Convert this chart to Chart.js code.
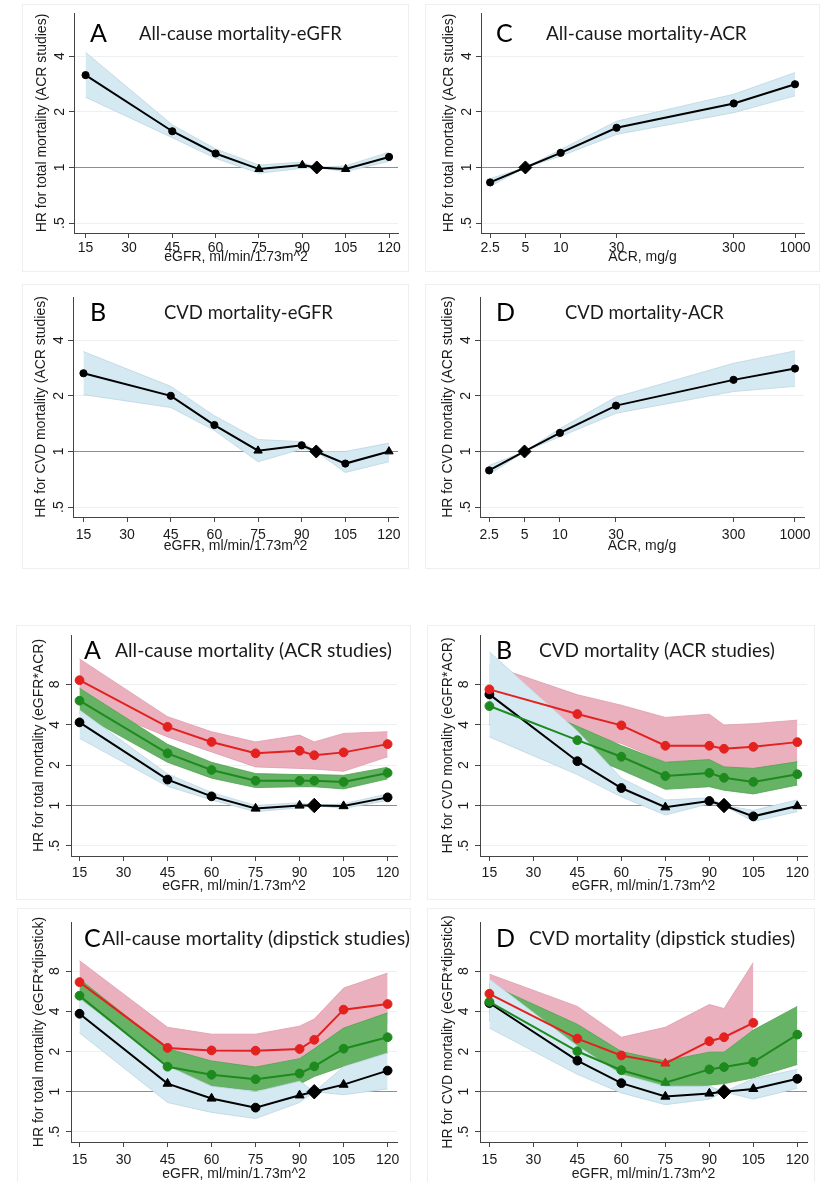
<!DOCTYPE html>
<html>
<head>
<meta charset="utf-8">
<script src="https://cdn.jsdelivr.net/npm/chart.js@4.4.1/dist/chart.umd.min.js"></script>
<style>
  body { margin: 0; background: #fff; }
  #page { position: relative; width: 825px; height: 1182px; overflow: hidden; background: #fff; }
  #page canvas, .frame { position: absolute; }
  .frame { border: 1px solid #efefef; box-sizing: border-box; }
</style>
</head>
<body>
<div id="page"></div>
<script>
// categories and axis ticks
const egfrCats = [15, 45, 60, 75, 90, 95, 105, 120];
const acrCats = [2.5, 5, 10, 30, 300, 1000];
const egfrTicks = [15, 30, 45, 60, 75, 90, 105, 120];
const acrTicks = [2.5, 5, 10, 30, 300, 1000];
const hrTicksTop = [0.5, 1, 2, 4];
const hrTicksBottom = [0.5, 1, 2, 4, 8];

// marker codes: c = circle, t = triangle, d = reference diamond
// all-cause mortality by eGFR (ACR studies)
const allEgfrHR = [3.16, 1.57, 1.19, 0.98, 1.03, 1, 0.98, 1.14];
const allEgfrLo = [2.40, 1.45, 1.12, 0.93, 0.99, 1, 0.95, 1.08];
const allEgfrHi = [4.20, 1.70, 1.26, 1.03, 1.07, 1, 1.02, 1.21];
const allEgfrMarks = ['c', 'c', 'c', 't', 't', 'd', 't', 'c'];

// CVD mortality by eGFR
const cvdEgfrHR = [2.65, 2.00, 1.39, 1.01, 1.08, 1, 0.86, 1.00];
const cvdEgfrLo = [2.03, 1.73, 1.30, 0.88, 1.03, 1, 0.77, 0.88];
const cvdEgfrHi = [3.47, 2.25, 1.56, 1.16, 1.13, 1, 1.00, 1.11];
const cvdEgfrMarks = ['c', 'c', 'c', 't', 'c', 'd', 'c', 't'];

// all-cause mortality by ACR
const allAcrHR = [0.83, 1, 1.20, 1.64, 2.22, 2.82];
const allAcrLo = [0.79, 1, 1.15, 1.51, 1.98, 2.44];
const allAcrHi = [0.87, 1, 1.25, 1.78, 2.49, 3.26];
const allAcrMarks = ['c', 'd', 'c', 'c', 'c', 'c'];

// CVD mortality by ACR
const cvdAcrHR = [0.79, 1, 1.26, 1.77, 2.44, 2.81];
const cvdAcrLo = [0.75, 1, 1.20, 1.61, 2.11, 2.25];
const cvdAcrHi = [0.84, 1, 1.33, 1.97, 3.00, 3.50];
const cvdAcrMarks = ['c', 'd', 'c', 'c', 'c', 'c'];

// eGFR x ACR, all-cause: red = ACR 300, green = ACR 30, black = ACR 5
const xAllRedHR = [8.60, 3.86, 2.98, 2.45, 2.56, 2.37, 2.49, 2.87];
const xAllRedLo = [6.10, 3.25, 2.51, 1.94, 1.89, 1.87, 1.80, 2.31];
const xAllRedHi = [12.4, 4.60, 3.55, 2.98, 3.35, 2.98, 3.45, 3.55];
const xAllGreenHR = [6.05, 2.45, 1.84, 1.53, 1.53, 1.53, 1.50, 1.75];
const xAllGreenLo = [4.87, 2.10, 1.60, 1.36, 1.38, 1.38, 1.33, 1.58];
const xAllGreenHi = [7.50, 2.86, 2.10, 1.73, 1.70, 1.70, 1.68, 1.93];
const xAllBlackHR = [4.17, 1.56, 1.17, 0.95, 1.00, 1, 0.99, 1.15];
const xAllBlackLo = [3.17, 1.39, 1.10, 0.90, 0.96, 1, 0.95, 1.09];
const xAllBlackHi = [5.15, 1.72, 1.25, 1.00, 1.05, 1, 1.03, 1.22];
const xAllBlackMarks = ['c', 'c', 'c', 't', 't', 'd', 't', 'c'];

// eGFR x ACR, CVD
const xCvdRedHR = [7.35, 4.81, 3.96, 2.79, 2.79, 2.65, 2.74, 2.97];
const xCvdRedLo = [5.00, 3.55, 2.90, 2.12, 2.20, 1.94, 1.89, 2.10];
const xCvdRedHi = [11.2, 6.70, 5.60, 4.54, 4.80, 3.98, 4.08, 4.33];
const xCvdGreenHR = [5.52, 3.07, 2.31, 1.66, 1.75, 1.61, 1.50, 1.71];
const xCvdGreenLo = [4.00, 2.50, 1.84, 1.32, 1.38, 1.30, 1.22, 1.42];
const xCvdGreenHi = [7.50, 3.90, 2.80, 2.10, 2.20, 1.94, 1.89, 2.12];
const xCvdBlackHR = [6.74, 2.14, 1.35, 0.97, 1.08, 1, 0.83, 0.99];
const xCvdBlackLo = [3.25, 1.70, 1.16, 0.85, 1.03, 1, 0.76, 0.90];
const xCvdBlackHi = [14.0, 3.60, 1.60, 1.10, 1.14, 1, 0.92, 1.10];
const xCvdBlackMarks = ['c', 'c', 'c', 't', 'c', 'd', 'c', 't'];

// eGFR x dipstick, all-cause
const dAllRedHR = [6.63, 2.13, 2.04, 2.03, 2.09, 2.45, 4.12, 4.54];
const dAllRedLo = [5.30, 1.60, 1.50, 1.50, 1.55, 1.80, 2.90, 3.30];
const dAllRedHi = [9.60, 3.04, 2.70, 2.70, 3.10, 3.50, 5.98, 7.74];
const dAllGreenHR = [5.24, 1.54, 1.34, 1.24, 1.37, 1.55, 2.10, 2.56];
const dAllGreenLo = [3.90, 1.20, 1.10, 1.02, 1.14, 1.30, 1.55, 1.95];
const dAllGreenHi = [7.00, 2.10, 1.70, 1.53, 1.77, 2.10, 3.00, 3.90];
const dAllBlackHR = [3.84, 1.15, 0.89, 0.76, 0.94, 1, 1.13, 1.44];
const dAllBlackLo = [2.76, 0.83, 0.70, 0.63, 0.83, 1, 0.95, 1.05];
const dAllBlackHi = [5.00, 1.56, 1.10, 1.00, 1.20, 1, 1.54, 1.95];
const dAllBlackMarks = ['c', 't', 't', 'c', 't', 'd', 't', 'c'];

// eGFR x dipstick, CVD (no estimate for the top dipstick group at 120)
const dCvdRedHR = [5.42, 2.50, 1.87, 1.63, 2.39, 2.56, 3.28, null];
const dCvdRedLo = [3.90, 1.70, 1.40, 1.13, 1.68, 1.90, 2.20, null];
const dCvdRedHi = [7.60, 4.36, 2.56, 3.04, 4.50, 4.20, 9.30, null];
const dCvdRedMarks = ['c', 'c', 'c', 't', 'c', 'c', 'c', 'c'];
const dCvdGreenHR = [4.72, 2.01, 1.45, 1.17, 1.47, 1.53, 1.67, 2.68];
const dCvdGreenLo = [3.40, 1.40, 1.13, 1.03, 1.12, 1.15, 1.27, 1.60];
const dCvdGreenHi = [6.40, 3.20, 2.00, 1.70, 1.98, 1.98, 2.90, 4.36];
const dCvdGreenMarks = ['c', 'c', 'c', 't', 'c', 'c', 'c', 'c'];
const dCvdBlackHR = [4.62, 1.71, 1.16, 0.92, 0.97, 1, 1.05, 1.25];
const dCvdBlackLo = [3.00, 1.35, 0.98, 0.80, 0.88, 1, 0.88, 1.06];
const dCvdBlackHi = [7.00, 2.20, 1.35, 1.10, 1.10, 1, 1.25, 1.47];
const dCvdBlackMarks = ['c', 'c', 'c', 't', 't', 'd', 't', 'c'];

const allCircles = ['c', 'c', 'c', 'c', 'c', 'c', 'c', 'c'];

const lineColor = { blue: '#000000', green: '#1e8a1e', pink: '#e3211f' };
const bandFill = { blue: '#d4e9f1', green: '#66b366', pink: '#ebb0be' };
const bandEdge = { blue: '#bcd6e2', green: '#4fa34f', pink: '#dd9cad' };
const bandOrder = { blue: 1, green: 2, pink: 3 };
const pointShape = { c: 'circle', t: 'triangle', d: 'rectRot' };

const AXIS_FONT = '"Liberation Sans", Arial, sans-serif';
const HEAD_FONT = 'Lato, "Open Sans", sans-serif';
const Y_W = 45;
const X_H = 42;

const egfrTitle = 'eGFR, ml/min/1.73m^2';

const panels = [
  { box: { x: 0, y: 0, w: 412, h: 280 }, frame: [22, 4, 387, 268], plot: { l: 74, t: 13, r: 398, b: 233 },
    xType: 'linear', xMin: 11, xMax: 123.1, xTicks: egfrTicks, xTitle: egfrTitle, tickGap: 15, titleGap: 24,
    yMin: 0.442, yMax: 6.85, yTicks: hrTicksTop, yTitle: 'HR for total mortality (ACR studies)', yLabelGap: 14,
    letter: 'A', heading: 'All-cause mortality-eGFR', letterX: 90, headX: 139, headW: 203, headY: 33, headSize: 16, small: true,
    series: [{ cats: egfrCats, hr: allEgfrHR, lo: allEgfrLo, hi: allEgfrHi, marks: allEgfrMarks, tone: 'blue' }] },
  { box: { x: 412, y: 0, w: 413, h: 280 }, frame: [425, 4, 395, 268], plot: { l: 481, t: 13, r: 804, b: 233 },
    xType: 'logarithmic', xMin: 2.09, xMax: 1193, xTicks: acrTicks, xTitle: 'ACR, mg/g', tickGap: 15, titleGap: 24,
    yMin: 0.442, yMax: 6.85, yTicks: hrTicksTop, yTitle: 'HR for total mortality (ACR studies)', yLabelGap: 14,
    letter: 'C', heading: 'All-cause mortality-ACR', letterX: 496, headX: 546, headW: 201, headY: 33, headSize: 16, small: true,
    series: [{ cats: acrCats, hr: allAcrHR, lo: allAcrLo, hi: allAcrHi, marks: allAcrMarks, tone: 'blue' }] },
  { box: { x: 0, y: 280, w: 412, h: 295 }, frame: [22, 284, 387, 285], plot: { l: 73, t: 297, r: 398, b: 517 },
    xType: 'linear', xMin: 11.4, xMax: 123.1, xTicks: egfrTicks, xTitle: egfrTitle, tickGap: 18, titleGap: 29,
    yMin: 0.442, yMax: 6.85, yTicks: hrTicksTop, yTitle: 'HR for CVD mortality (ACR studies)', yLabelGap: 14,
    letter: 'B', heading: 'CVD mortality-eGFR', letterX: 90, headX: 164, headW: 169, headY: 312, headSize: 16, small: true,
    series: [{ cats: egfrCats, hr: cvdEgfrHR, lo: cvdEgfrLo, hi: cvdEgfrHi, marks: cvdEgfrMarks, tone: 'blue' }] },
  { box: { x: 412, y: 280, w: 413, h: 295 }, frame: [425, 284, 395, 285], plot: { l: 480, t: 297, r: 804, b: 517 },
    xType: 'logarithmic', xMin: 2.09, xMax: 1193, xTicks: acrTicks, xTitle: 'ACR, mg/g', tickGap: 18, titleGap: 29,
    yMin: 0.442, yMax: 6.85, yTicks: hrTicksTop, yTitle: 'HR for CVD mortality (ACR studies)', yLabelGap: 14,
    letter: 'D', heading: 'CVD mortality-ACR', letterX: 496, headX: 565, headW: 159, headY: 312, headSize: 16, small: true,
    series: [{ cats: acrCats, hr: cvdAcrHR, lo: cvdAcrLo, hi: cvdAcrHi, marks: cvdAcrMarks, tone: 'blue' }] },
  { box: { x: 0, y: 600, w: 412, h: 300 }, frame: [16, 625, 395, 275], plot: { l: 71, t: 635, r: 397, b: 856 },
    xType: 'linear', xMin: 12.1, xMax: 123.2, xTicks: egfrTicks, xTitle: egfrTitle, tickGap: 17, titleGap: 30,
    yMin: 0.42, yMax: 18.7, yTicks: hrTicksBottom, yTitle: 'HR for total mortality (eGFR*ACR)', yLabelGap: 15.5,
    letter: 'A', heading: 'All-cause mortality (ACR studies)', letterX: 84, headX: 115, headW: 277, headY: 650, headSize: 19, small: false,
    series: [
      { cats: egfrCats, hr: xAllRedHR, lo: xAllRedLo, hi: xAllRedHi, marks: allCircles, tone: 'pink' },
      { cats: egfrCats, hr: xAllGreenHR, lo: xAllGreenLo, hi: xAllGreenHi, marks: allCircles, tone: 'green' },
      { cats: egfrCats, hr: xAllBlackHR, lo: xAllBlackLo, hi: xAllBlackHi, marks: xAllBlackMarks, tone: 'blue' }] },
  { box: { x: 412, y: 600, w: 413, h: 300 }, frame: [427, 625, 388, 275], plot: { l: 480, t: 635, r: 807, b: 856 },
    xType: 'linear', xMin: 11.8, xMax: 123.3, xTicks: egfrTicks, xTitle: egfrTitle, tickGap: 17, titleGap: 30,
    yMin: 0.42, yMax: 18.7, yTicks: hrTicksBottom, yTitle: 'HR for CVD mortality (eGFR*ACR)', yLabelGap: 15.5,
    letter: 'B', heading: 'CVD mortality (ACR studies)', letterX: 496, headX: 539, headW: 236, headY: 650, headSize: 19, small: false,
    series: [
      { cats: egfrCats, hr: xCvdRedHR, lo: xCvdRedLo, hi: xCvdRedHi, marks: allCircles, tone: 'pink' },
      { cats: egfrCats, hr: xCvdGreenHR, lo: xCvdGreenLo, hi: xCvdGreenHi, marks: allCircles, tone: 'green' },
      { cats: egfrCats, hr: xCvdBlackHR, lo: xCvdBlackLo, hi: xCvdBlackHi, marks: xCvdBlackMarks, tone: 'blue' }] },
  { box: { x: 0, y: 900, w: 412, h: 290 }, frame: [17, 908, 394, 280], plot: { l: 71, t: 922, r: 397, b: 1142 },
    xType: 'linear', xMin: 12.1, xMax: 123.2, xTicks: egfrTicks, xTitle: egfrTitle, tickGap: 18, titleGap: 32,
    yMin: 0.42, yMax: 18.7, yTicks: hrTicksBottom, yTitle: 'HR for total mortality (eGFR*dipstick)', yLabelGap: 15.5,
    letter: 'C', heading: 'All-cause mortality (dipstick studies)', letterX: 84, headX: 102, headW: 308, headY: 938, headSize: 19, small: false,
    series: [
      { cats: egfrCats, hr: dAllRedHR, lo: dAllRedLo, hi: dAllRedHi, marks: allCircles, tone: 'pink' },
      { cats: egfrCats, hr: dAllGreenHR, lo: dAllGreenLo, hi: dAllGreenHi, marks: allCircles, tone: 'green' },
      { cats: egfrCats, hr: dAllBlackHR, lo: dAllBlackLo, hi: dAllBlackHi, marks: dAllBlackMarks, tone: 'blue' }] },
  { box: { x: 412, y: 900, w: 413, h: 290 }, frame: [427, 908, 388, 280], plot: { l: 480, t: 922, r: 807, b: 1142 },
    xType: 'linear', xMin: 11.8, xMax: 123.3, xTicks: egfrTicks, xTitle: egfrTitle, tickGap: 18, titleGap: 32,
    yMin: 0.42, yMax: 18.7, yTicks: hrTicksBottom, yTitle: 'HR for CVD mortality (eGFR*dipstick)', yLabelGap: 15.5,
    letter: 'D', heading: 'CVD mortality (dipstick studies)', letterX: 496, headX: 529, headW: 266, headY: 938, headSize: 19, small: false,
    series: [
      { cats: egfrCats, hr: dCvdRedHR, lo: dCvdRedLo, hi: dCvdRedHi, marks: dCvdRedMarks, tone: 'pink' },
      { cats: egfrCats, hr: dCvdGreenHR, lo: dCvdGreenLo, hi: dCvdGreenHi, marks: dCvdGreenMarks, tone: 'green' },
      { cats: egfrCats, hr: dCvdBlackHR, lo: dCvdBlackLo, hi: dCvdBlackHi, marks: dCvdBlackMarks, tone: 'blue' }] },
];

// rotated y tick labels plus the panel letter and heading
const panelText = {
  id: 'panelText',
  afterDraw(chart, args, opts) {
    const { ctx } = chart;
    const yScale = chart.scales.y;
    ctx.save();
    ctx.fillStyle = '#1a1a1a';
    ctx.font = '14px ' + AXIS_FONT;
    ctx.textAlign = 'center';
    ctx.textBaseline = 'middle';
    yScale.ticks.forEach(t => {
      ctx.save();
      ctx.translate(yScale.right - opts.labelGap, yScale.getPixelForValue(t.value));
      ctx.rotate(-Math.PI / 2);
      ctx.fillText(t.label, 0, 0);
      ctx.restore();
    });

    ctx.textAlign = 'left';
    ctx.textBaseline = 'alphabetic';
    ctx.fillStyle = '#000';
    const letterSize = 25;
    ctx.font = letterSize + 'px ' + HEAD_FONT;
    ctx.fillText(opts.letter, opts.letterX, opts.headY + letterSize * 0.36);

    ctx.font = opts.headSize + 'px ' + HEAD_FONT;
    const w = ctx.measureText(opts.heading).width;
    const size = opts.headSize * opts.headW / w;
    ctx.font = size.toFixed(2) + 'px ' + HEAD_FONT;
    ctx.fillStyle = '#1a1a1a';
    ctx.fillText(opts.heading, opts.headX, opts.headY + size * 0.36);
    ctx.restore();
  }
};

function seriesSets(s, small) {
  const pts = arr => s.cats.map((c, i) => ({ x: c, y: arr[i] }));
  const ord = bandOrder[s.tone];
  const radius = small ? { c: 3.6, t: 4.8, d: 6.5 } : { c: 4.4, t: 5.2, d: 7.2 };
  return [
    { data: pts(s.hi), fill: '+1', backgroundColor: bandFill[s.tone], borderColor: bandEdge[s.tone],
      borderWidth: 0.8, pointRadius: 0, order: ord + 0.2 },
    { data: pts(s.lo), fill: false, borderColor: bandEdge[s.tone], borderWidth: 0.8, pointRadius: 0, order: ord + 0.1 },
    { data: pts(s.hr), fill: false, borderColor: lineColor[s.tone], backgroundColor: lineColor[s.tone],
      borderWidth: 2, pointStyle: s.marks.map(m => pointShape[m]), pointRadius: s.marks.map(m => radius[m]),
      pointBorderWidth: 1, order: 0 }
  ];
}

const page = document.getElementById('page');

panels.forEach(p => {
  const frame = document.createElement('div');
  frame.className = 'frame';
  frame.style.left = p.frame[0] + 'px';
  frame.style.top = p.frame[1] + 'px';
  frame.style.width = p.frame[2] + 'px';
  frame.style.height = p.frame[3] + 'px';
  page.appendChild(frame);

  const canvas = document.createElement('canvas');
  canvas.width = p.box.w;
  canvas.height = p.box.h;
  canvas.style.left = p.box.x + 'px';
  canvas.style.top = p.box.y + 'px';
  page.appendChild(canvas);

  const datasets = [];
  p.series.forEach(s => datasets.push(...seriesSets(s, p.small)));

  new Chart(canvas, {
    type: 'line',
    data: { datasets },
    plugins: [panelText],
    options: {
      responsive: false,
      devicePixelRatio: 1,
      animation: false,
      events: [],
      layout: {
        padding: {
          left: p.plot.l - p.box.x - Y_W,
          top: p.plot.t - p.box.y,
          right: p.box.x + p.box.w - p.plot.r,
          bottom: p.box.y + p.box.h - p.plot.b - X_H
        }
      },
      plugins: {
        legend: { display: false },
        tooltip: { enabled: false },
        panelText: {
          labelGap: p.yLabelGap, letter: p.letter, heading: p.heading,
          letterX: p.letterX - p.box.x, headX: p.headX - p.box.x, headW: p.headW,
          headY: p.headY - p.box.y, headSize: p.headSize
        }
      },
      scales: {
        x: {
          type: p.xType,
          min: p.xMin,
          max: p.xMax,
          bounds: 'data',
          afterBuildTicks: sc => { sc.ticks = p.xTicks.map(v => ({ value: v })); },
          afterFit: sc => { sc.height = X_H; },
          ticks: {
            autoSkip: false, maxRotation: 0, minRotation: 0,
            padding: p.tickGap - 5 - 8.4,
            color: '#1a1a1a',
            font: { family: AXIS_FONT, size: 14 },
            callback: v => String(v)
          },
          grid: { display: true, drawOnChartArea: false, drawTicks: true, tickLength: 5, tickColor: '#444' },
          border: { display: true, color: '#444', width: 1 },
          title: {
            display: true, text: p.xTitle, color: '#1a1a1a',
            font: { family: AXIS_FONT, size: 14 },
            padding: { top: 0, bottom: X_H - 8.4 - p.titleGap }
          }
        },
        y: {
          type: 'logarithmic',
          min: p.yMin,
          max: p.yMax,
          bounds: 'data',
          afterBuildTicks: sc => { sc.ticks = p.yTicks.map(v => ({ value: v })); },
          afterFit: sc => { sc.width = Y_W; },
          ticks: { display: false, callback: v => (v === 0.5 ? '.5' : String(v)) },
          grid: {
            display: true, drawTicks: true, tickLength: 5, tickColor: '#444', lineWidth: 1,
            color: c => (c.tick && c.tick.value === 1 ? '#8e8e8e' : '#edf0f3')
          },
          border: { display: true, color: '#444', width: 1 },
          title: {
            display: true, text: p.yTitle, color: '#1a1a1a',
            font: { family: AXIS_FONT, size: 14 },
            padding: { top: Y_W - 32 - 8.4, bottom: 0 }
          }
        }
      }
    }
  });
});
</script>
</body>
</html>
